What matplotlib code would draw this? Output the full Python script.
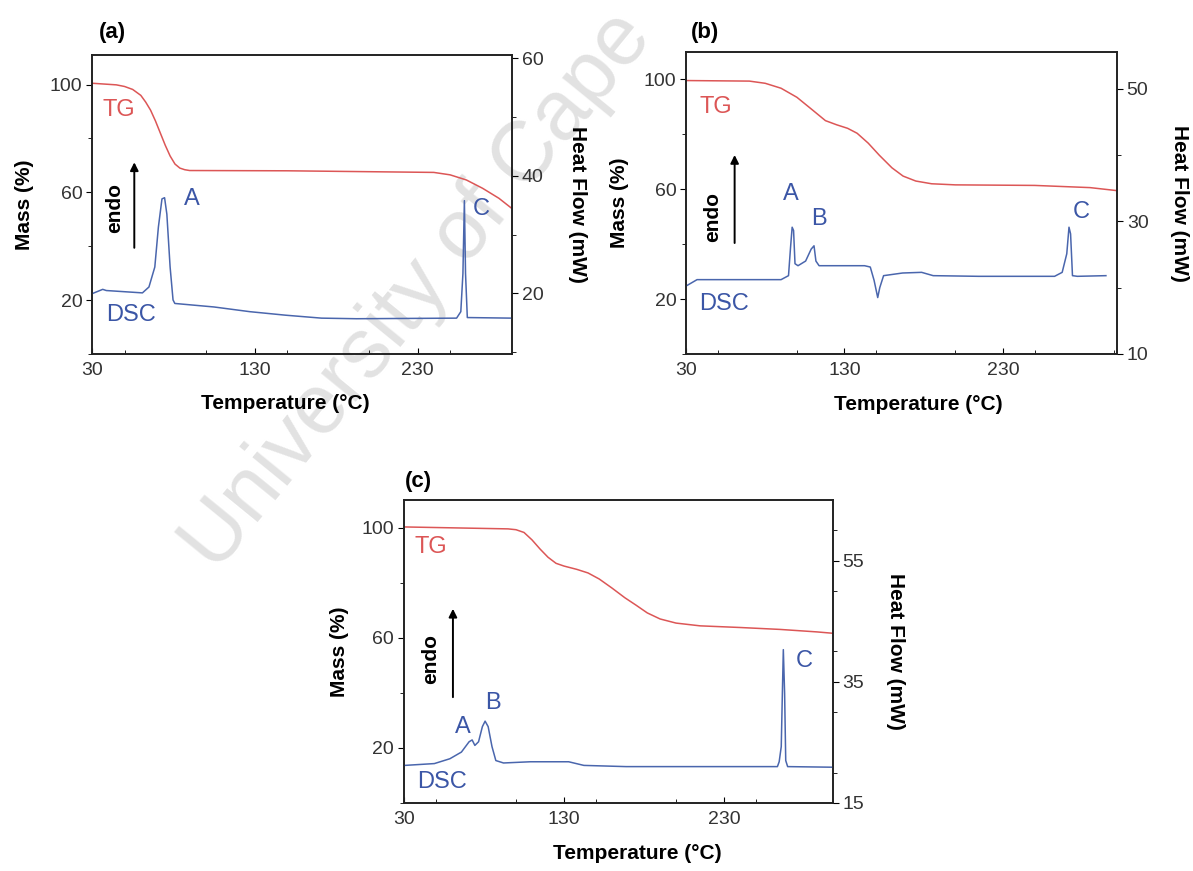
import matplotlib
matplotlib.use("Agg")
import matplotlib.pyplot as plt
from matplotlib.ticker import MultipleLocator

plt.rcParams["font.family"] = ["Liberation Sans", "DejaVu Sans"]

TG_COLOR = "#dc5656"
DSC_COLOR = "#4a66ad"
TEXT_BLUE = "#3b56a6"

# panel (a)
A_TG_T = [30, 45, 50, 55, 60, 63, 66, 69, 72, 75, 78, 81, 84, 87, 90, 150, 240, 250, 260, 270, 280, 288]
A_TG_MASS = [100.5, 99.9, 99.3, 98.2, 96.0, 93.5, 90.5, 86.5, 82.0, 77.5, 73.5, 70.5, 69.0, 68.4, 68.1,
             68.0, 67.4, 66.5, 64.6, 61.5, 57.8, 54.0]
A_DSC_T = [30.4, 36.6, 38.8, 61, 65, 68.6, 70.8, 73, 74.6, 76, 78, 79.8, 80.9, 105, 127, 149, 171,
           192.5, 254, 256.6, 257.9, 258.8, 259.5, 260.6, 288]
A_DSC_HF = [20.0, 20.7, 20.5, 20.1, 21.1, 24.5, 31.3, 36.1, 36.3, 33.5, 24.5, 18.9, 18.3, 17.7, 16.9,
            16.3, 15.8, 15.7, 15.8, 16.9, 23.4, 35.8, 23.4, 15.9, 15.8]

# panel (b)
B_TG_T = [30, 70, 80, 90, 100, 110, 118, 125, 132, 138, 145, 152, 160, 167, 175, 185, 200, 250, 285, 302]
B_TG_MASS = [99.6, 99.4, 98.6, 96.8, 93.5, 88.8, 85.0, 83.5, 82.2, 80.4, 76.8, 72.4, 67.8, 64.8, 63.0,
             62.0, 61.6, 61.4, 60.6, 59.5]
B_DSC_T = [30.5, 37, 90, 94.7, 96, 97, 97.9, 98.8, 100.7, 105.5, 109, 110.8, 112, 114, 142.7, 146.3,
           148.7, 151, 152.3, 154.7, 166.7, 178.7, 186, 214.7, 262.6, 267.4, 270.3, 271.7, 272.7,
           273.9, 277, 295]
B_DSC_HF = [20.3, 21.2, 21.2, 21.8, 26.1, 29.1, 28.6, 23.6, 23.3, 24.0, 25.8, 26.3, 24.0, 23.3, 23.3,
            23.1, 21.1, 18.5, 20.0, 21.8, 22.2, 22.3, 21.8, 21.7, 21.7, 22.3, 25.1, 29.1, 28.1, 21.8,
            21.7, 21.8]

# panel (c)
C_TG_T = [30.5, 95, 100, 105, 110, 115, 120, 125, 130, 138, 145, 152, 160, 168, 175, 182, 190, 200, 215,
          240, 265, 288, 298]
C_TG_MASS = [100.2, 99.5, 99.2, 98.2, 95.5, 92.2, 89.2, 87.0, 86.0, 84.8, 83.5, 81.3, 78.0, 74.5, 71.8,
             69.0, 66.8, 65.3, 64.3, 63.7, 63.0, 62.1, 61.6]
C_DSC_T = [30.5, 49, 58.7, 65.9, 70.7, 72.6, 74.3, 76.6, 79, 80.7, 82.6, 85, 87.4, 92.2, 109, 132.9,
           142.4, 168.8, 216.6, 263.3, 264.4, 265.7, 266.4, 267, 267.8, 268.5, 269.7, 298]
C_DSC_HF = [21.2, 21.5, 22.3, 23.4, 25.1, 25.4, 24.5, 25.1, 27.6, 28.5, 27.6, 24.3, 22.0, 21.6, 21.8,
            21.8, 21.2, 21.0, 21.0, 21.0, 21.8, 24.3, 33.1, 40.3, 33.1, 22.0, 21.0, 20.9]

PANELS = [
    dict(tag="(a)", rect=[0.0771, 0.5936, 0.352, 0.3433], xlim=(30, 288), ylim=(0, 111),
         hf_lim=(9.7, 60.6), hf_ticks=[20, 40, 60], tg=(A_TG_T, A_TG_MASS), dsc=(A_DSC_T, A_DSC_HF),
         tg_text=(46.5, 90.6), dsc_text=(54, 16.3), endo=(44, 34.6), arrow=(56, 27.3, 42.8),
         peaks=[("A", 91.5, 36.0), ("C", 269, 34.4)], tag_xy=(0.048, 1.074), xlabel_x=0.46,
         ylabel_x=-0.138, hflabel_x=1.155),
    dict(tag="(b)", rect=[0.575, 0.5936, 0.3613, 0.3467], xlim=(30, 302), ylim=(0, 110),
         hf_lim=(10, 55.5), hf_ticks=[10, 30, 50], tg=(B_TG_T, B_TG_MASS), dsc=(B_DSC_T, B_DSC_HF),
         tg_text=(49, 90), dsc_text=(54, 17.5), endo=(46.8, 30.6), arrow=(60.7, 26.3, 40.4),
         peaks=[("A", 96, 34.1), ("B", 114, 30.4), ("C", 279.4, 31.4)], tag_xy=(0.044, 1.066),
         xlabel_x=0.54, ylabel_x=-0.132, hflabel_x=1.146),
    dict(tag="(c)", rect=[0.3386, 0.0781, 0.3596, 0.3479], xlim=(30, 298), ylim=(0, 110),
         hf_lim=(15, 65), hf_ticks=[15, 35, 55], tg=(C_TG_T, C_TG_MASS), dsc=(C_DSC_T, C_DSC_HF),
         tg_text=(46.7, 92.9), dsc_text=(54, 18.4), endo=(46.7, 38.7), arrow=(60.6, 32, 47.5),
         peaks=[("A", 67, 27.6), ("B", 85.5, 31.5), ("C", 280, 38.4)], tag_xy=(0.033, 1.06),
         xlabel_x=0.545, ylabel_x=-0.128, hflabel_x=1.145),
]


def draw_panel(fig, spec: dict) -> None:
    ax = fig.add_axes(spec["rect"])
    ax2 = ax.twinx()
    ax.set_zorder(2)
    ax2.set_zorder(3)
    ax.patch.set_visible(False)
    ax2.patch.set_visible(False)

    ax.plot(*spec["tg"], color=TG_COLOR, lw=1.1)
    ax2.plot(*spec["dsc"], color=DSC_COLOR, lw=1.1)

    ax.set_xlim(*spec["xlim"])
    ax.set_ylim(*spec["ylim"])
    ax2.set_ylim(*spec["hf_lim"])
    ax.set_xticks([30, 130, 230])
    ax.xaxis.set_minor_locator(MultipleLocator(50))
    ax.set_yticks([20, 60, 100])
    ax.yaxis.set_minor_locator(MultipleLocator(20))
    ax2.set_yticks(spec["hf_ticks"])
    ax2.yaxis.set_minor_locator(MultipleLocator(10))

    for a in (ax, ax2):
        for s in a.spines.values():
            s.set_linewidth(1.2)
            s.set_color("#222222")
    ax.tick_params(axis="x", direction="in", length=4, labelsize=14, labelcolor="#333333", pad=6)
    ax.tick_params(axis="x", which="minor", direction="in", length=3)
    ax.tick_params(axis="y", direction="out", length=4, labelsize=14, labelcolor="#333333", pad=3)
    ax.tick_params(axis="y", which="minor", direction="out", length=3)
    ax2.tick_params(axis="y", direction="out", length=4, labelsize=14, labelcolor="#333333", pad=3)
    ax2.tick_params(axis="y", which="minor", direction="out", length=3)

    ax.set_xlabel("Temperature (°C)", fontsize=15, fontweight="bold")
    ax.xaxis.set_label_coords(spec["xlabel_x"], -0.135)
    ax.set_ylabel("Mass (%)", fontsize=15, fontweight="bold")
    ax.yaxis.set_label_coords(spec["ylabel_x"], 0.5)
    ax2.set_ylabel("Heat Flow (mW)", fontsize=15, fontweight="bold", rotation=270, va="center")
    ax2.yaxis.set_label_coords(spec["hflabel_x"], 0.5)

    ax.text(*spec["tag_xy"], spec["tag"], transform=ax.transAxes, fontsize=16, fontweight="bold",
            ha="center", va="center")
    ax.text(*spec["tg_text"], "TG", color=TG_COLOR, fontsize=17, ha="center", va="center")
    ax2.text(*spec["dsc_text"], "DSC", color=TEXT_BLUE, fontsize=17, ha="center", va="center")
    for label, x, y in spec["peaks"]:
        ax2.text(x, y, label, color=TEXT_BLUE, fontsize=17, ha="center", va="center")

    ex, ey = spec["endo"]
    ax2.text(ex, ey, "endo", rotation=90, fontsize=15, fontweight="bold", ha="center", va="center")
    axx, y0, y1 = spec["arrow"]
    ax2.annotate("", xy=(axx, y1), xytext=(axx, y0),
                 arrowprops=dict(arrowstyle="-|>", color="black", lw=1.4, mutation_scale=12))


fig = plt.figure(figsize=(11.93, 8.71), dpi=100)
fig.patch.set_facecolor("white")
fig.text(0.35, 0.665, "University of Cape", rotation=50.8, fontsize=61, color="#e2e2e2",
         ha="center", va="center", zorder=0)

for spec in PANELS:
    draw_panel(fig, spec)

fig.savefig("out.png", dpi=100)
